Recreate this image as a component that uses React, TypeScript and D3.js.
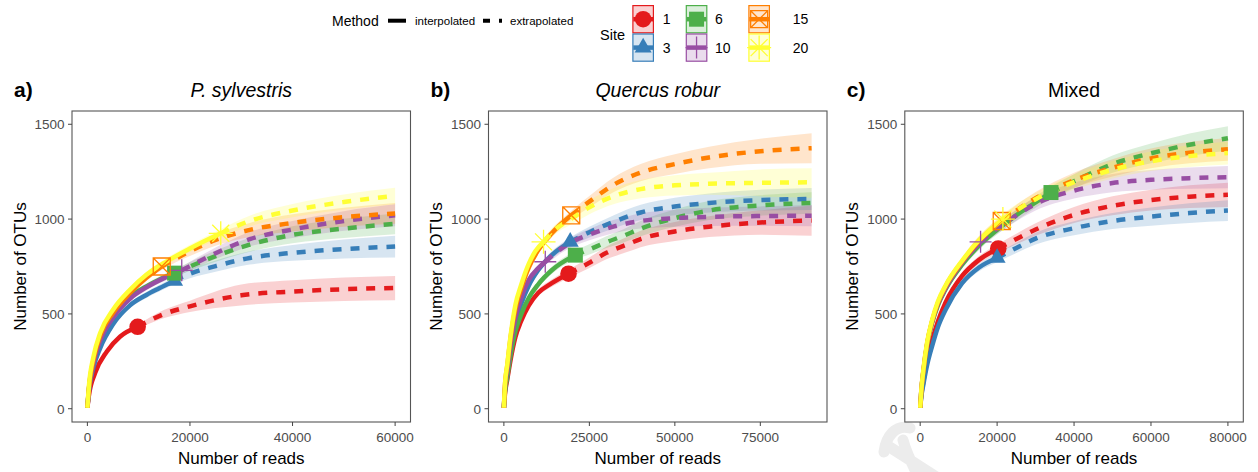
import { useEffect, useRef } from "react";
import * as d3 from "d3";

// sites (legend order) and their look
const siteLabels = ["1", "3", "6", "10", "15", "20"];
const siteColors = ["#E41A1C", "#377EB8", "#4DAF4A", "#984EA3", "#FF7F00", "#FFFF33"];
const siteShapes = ["circle", "triangle", "square", "plus", "squareCross", "asterisk"];

const panelLabels = ["a)", "b)", "c)"];
const panelTitles = ["P. sylvestris", "Quercus robur", "Mixed"];
const panelItalic = [true, true, false];
const panelMaxReads = [60000, 90000, 80000];
const panelXTicks = [
  [0, 20000, 40000, 60000],
  [0, 25000, 50000, 75000],
  [0, 20000, 40000, 60000, 80000],
];
const yTicks = [0, 500, 1000, 1500];

// observed number of reads for each site (1, 3, 6, 10, 15, 20)
const pineObserved = [9800, 17000, 17000, 18400, 14500, 26000];
const oakObserved = [18900, 19400, 20900, 12100, 19700, 11600];
const mixedObserved = [20300, 20000, 34000, 15700, 21200, 21500];

// rarefaction rows: [reads, OTUs, lower CI, upper CI]
const pine1 = [[0, 5, 5, 5], [300, 70, 68, 72], [1500, 188, 182, 194], [3800, 302, 294, 310], [6400, 381, 371, 391], [9800, 432, 420, 444], [15000, 500, 478, 522], [20000, 540, 510, 570], [30000, 598, 545, 655], [40000, 618, 560, 678], [50000, 630, 568, 692], [60000, 637, 572, 700]];
const pine3 = [[0, 5, 5, 5], [300, 95, 92, 98], [1200, 220, 213, 227], [2500, 320, 311, 329], [5000, 445, 433, 457], [8300, 545, 531, 559], [11500, 600, 584, 616], [14000, 635, 618, 652], [17000, 675, 656, 694], [20000, 712, 688, 736], [25000, 752, 722, 782], [31650, 795, 760, 830], [40000, 822, 780, 864], [50000, 842, 792, 892], [60000, 855, 797, 912]];
const pine6 = [[0, 5, 5, 5], [300, 105, 102, 108], [1200, 245, 238, 252], [2500, 365, 356, 374], [5000, 485, 473, 497], [8300, 590, 576, 604], [11500, 645, 629, 661], [14000, 680, 663, 697], [17000, 715, 696, 734], [20000, 750, 726, 774], [25000, 805, 775, 835], [31650, 865, 828, 902], [40000, 917, 872, 962], [50000, 950, 900, 1002], [60000, 975, 920, 1030]];
const pine10 = [[0, 5, 5, 5], [300, 100, 97, 103], [1200, 240, 233, 247], [2500, 360, 351, 369], [5000, 480, 468, 492], [8300, 580, 566, 594], [11500, 640, 624, 656], [15000, 690, 672, 708], [18400, 730, 710, 750], [20000, 752, 730, 775], [25000, 820, 790, 850], [31650, 894, 856, 932], [40000, 945, 900, 990], [50000, 990, 938, 1042], [60000, 1020, 962, 1078]];
const pine15 = [[0, 5, 5, 5], [300, 110, 107, 113], [1200, 260, 253, 267], [2500, 385, 376, 394], [5000, 505, 493, 517], [8300, 610, 596, 624], [11500, 690, 674, 706], [14500, 750, 732, 768], [20000, 830, 806, 854], [25000, 890, 860, 920], [31650, 943, 906, 980], [40000, 980, 935, 1025], [50000, 1010, 960, 1060], [60000, 1030, 975, 1085]];
const pine20 = [[0, 5, 5, 5], [300, 120, 117, 123], [1200, 276, 269, 283], [2500, 400, 391, 409], [5000, 522, 510, 534], [8300, 627, 613, 641], [11500, 706, 690, 722], [15400, 776, 758, 794], [20000, 845, 825, 865], [26000, 925, 902, 948], [31650, 990, 962, 1018], [40000, 1045, 1010, 1080], [50000, 1090, 1050, 1130], [60000, 1122, 1078, 1165]];

const oak1 = [[0, 5, 5, 5], [300, 75, 73, 77], [1000, 155, 150, 160], [2000, 262, 254, 270], [3400, 380, 369, 391], [5000, 460, 447, 473], [7300, 545, 530, 560], [10000, 610, 593, 627], [14000, 662, 643, 681], [18900, 712, 690, 734], [25000, 770, 742, 798], [30000, 822, 788, 856], [36000, 866, 826, 906], [40000, 895, 852, 938], [50000, 935, 885, 985], [60000, 960, 905, 1015], [75000, 982, 918, 1046], [90000, 992, 912, 1072]];
const oak3 = [[0, 5, 5, 5], [300, 95, 92, 98], [1000, 185, 180, 190], [2000, 320, 311, 329], [3400, 450, 438, 462], [5000, 550, 536, 564], [7300, 650, 634, 666], [10000, 730, 712, 748], [14000, 810, 790, 830], [19400, 880, 857, 903], [25000, 931, 903, 959], [32000, 985, 951, 1019], [40000, 1035, 995, 1075], [50000, 1066, 1020, 1112], [60000, 1085, 1035, 1135], [75000, 1100, 1045, 1155], [90000, 1106, 1048, 1164]];
const oak6 = [[0, 5, 5, 5], [300, 85, 82, 88], [1000, 168, 163, 173], [2000, 285, 277, 293], [3400, 410, 399, 421], [5000, 495, 482, 508], [7300, 585, 570, 600], [10000, 655, 638, 672], [14000, 730, 711, 749], [20900, 810, 787, 833], [25000, 840, 813, 867], [30000, 878, 847, 909], [35000, 912, 877, 947], [40000, 950, 910, 990], [50000, 1005, 960, 1050], [60000, 1045, 995, 1095], [75000, 1072, 1018, 1126], [90000, 1085, 1028, 1142]];
const oak10 = [[0, 5, 5, 5], [300, 105, 102, 108], [1000, 200, 195, 205], [2000, 340, 331, 349], [3400, 480, 468, 492], [5000, 580, 566, 594], [7300, 680, 664, 696], [10000, 740, 722, 758], [12100, 775, 756, 794], [15000, 820, 798, 842], [20000, 880, 854, 906], [25000, 918, 888, 948], [32000, 960, 925, 995], [40000, 990, 950, 1030], [50000, 1005, 960, 1050], [60000, 1012, 964, 1060], [75000, 1016, 965, 1067], [90000, 1018, 962, 1074]];
const oak15 = [[0, 5, 5, 5], [300, 120, 117, 123], [1000, 228, 222, 234], [2000, 380, 370, 390], [3400, 530, 517, 543], [5000, 630, 615, 645], [7300, 745, 728, 762], [10000, 835, 816, 854], [14000, 925, 904, 946], [19700, 1020, 996, 1044], [25000, 1092, 1062, 1122], [32000, 1180, 1142, 1218], [40000, 1245, 1200, 1290], [50000, 1290, 1238, 1342], [60000, 1325, 1268, 1382], [75000, 1358, 1292, 1424], [90000, 1374, 1295, 1453]];
const oak20 = [[0, 5, 5, 5], [300, 125, 122, 128], [1000, 235, 229, 241], [2000, 390, 380, 400], [3400, 550, 537, 563], [5000, 650, 635, 665], [7300, 765, 748, 782], [9200, 830, 812, 848], [11600, 880, 860, 900], [15000, 945, 920, 970], [20000, 1005, 975, 1035], [25000, 1062, 1026, 1098], [32000, 1120, 1078, 1162], [40000, 1158, 1110, 1206], [50000, 1178, 1125, 1231], [60000, 1186, 1128, 1244], [75000, 1191, 1120, 1262], [90000, 1194, 1112, 1268]];

const mixed1 = [[0, 5, 5, 5], [300, 72, 70, 74], [800, 140, 136, 144], [1800, 255, 247, 263], [3100, 360, 349, 371], [4600, 460, 447, 473], [6600, 560, 544, 576], [10900, 700, 681, 719], [15300, 785, 764, 806], [20300, 845, 821, 869], [25000, 895, 867, 923], [30000, 945, 912, 978], [40000, 1022, 980, 1064], [50000, 1070, 1020, 1120], [60000, 1100, 1045, 1155], [70000, 1118, 1058, 1178], [80000, 1128, 1064, 1192]];
const mixed3 = [[0, 5, 5, 5], [300, 65, 63, 67], [800, 125, 121, 129], [1800, 230, 223, 237], [3100, 330, 320, 340], [4600, 430, 417, 443], [6600, 522, 507, 537], [10900, 662, 644, 680], [15300, 745, 725, 765], [20000, 795, 772, 818], [25000, 848, 821, 875], [30000, 897, 866, 928], [40000, 952, 915, 989], [50000, 990, 948, 1032], [60000, 1013, 965, 1061], [70000, 1032, 980, 1084], [80000, 1045, 990, 1100]];
const mixed6 = [[0, 5, 5, 5], [300, 94, 91, 97], [800, 188, 183, 193], [1800, 335, 326, 344], [3100, 452, 439, 465], [4600, 545, 530, 560], [6600, 630, 612, 648], [10900, 760, 739, 781], [15300, 860, 837, 883], [21000, 960, 934, 986], [26400, 1040, 1011, 1069], [34000, 1140, 1108, 1172], [40000, 1200, 1163, 1237], [50000, 1290, 1245, 1335], [60000, 1347, 1295, 1399], [70000, 1392, 1333, 1451], [80000, 1426, 1362, 1490]];
const mixed10 = [[0, 5, 5, 5], [300, 96, 93, 99], [800, 192, 187, 197], [1800, 340, 331, 349], [3100, 458, 445, 471], [4600, 552, 537, 567], [6600, 635, 617, 653], [10900, 770, 749, 791], [15700, 880, 856, 904], [20000, 950, 923, 977], [25000, 1020, 989, 1051], [30000, 1080, 1045, 1115], [40000, 1150, 1108, 1192], [50000, 1190, 1142, 1238], [60000, 1207, 1155, 1259], [70000, 1216, 1160, 1272], [80000, 1221, 1162, 1280]];
const mixed15 = [[0, 5, 5, 5], [300, 98, 95, 101], [800, 196, 191, 201], [1800, 344, 335, 353], [3100, 462, 449, 475], [4600, 558, 543, 573], [6600, 645, 627, 663], [10900, 775, 754, 796], [15300, 885, 861, 909], [19600, 965, 939, 991], [21200, 990, 963, 1017], [30000, 1110, 1077, 1143], [40000, 1205, 1165, 1245], [50000, 1270, 1224, 1316], [60000, 1320, 1268, 1372], [70000, 1350, 1294, 1406], [80000, 1368, 1308, 1428]];
const mixed20 = [[0, 5, 5, 5], [300, 100, 97, 103], [800, 200, 195, 205], [1800, 350, 341, 359], [3100, 468, 455, 481], [4600, 565, 550, 580], [6600, 650, 632, 668], [10900, 780, 759, 801], [15300, 888, 864, 912], [19600, 968, 942, 994], [21500, 1000, 973, 1027], [30000, 1105, 1072, 1138], [40000, 1195, 1155, 1235], [50000, 1260, 1214, 1306], [60000, 1305, 1253, 1357], [70000, 1332, 1275, 1389], [80000, 1348, 1288, 1408]];

const panelCurves = [
  [pine1, pine3, pine6, pine10, pine15, pine20],
  [oak1, oak3, oak6, oak10, oak15, oak20],
  [mixed1, mixed3, mixed6, mixed10, mixed15, mixed20],
];
const panelObserved = [pineObserved, oakObserved, mixedObserved];

const FONT = "'Liberation Sans', Arial, Helvetica, sans-serif";

// glyph for a ggplot-like point shape, centred on 0,0
function shapePath(shape: string): string {
  switch (shape) {
    case "circle":
      return d3.symbol(d3.symbolCircle, Math.PI * 8.3 * 8.3)() as string;
    case "triangle": {
      const s = 17;
      const h = (s * Math.sqrt(3)) / 2;
      return `M0,${(-h * 2) / 3}L${s / 2},${h / 3}L${-s / 2},${h / 3}Z`;
    }
    case "square":
      return "M-7.5,-7.5H7.5V7.5H-7.5Z";
    case "plus":
      return "M-11,0H11M0,-11V11";
    case "squareCross":
      return "M-8.5,-8.5H8.5V8.5H-8.5ZM-8.5,-8.5L8.5,8.5M8.5,-8.5L-8.5,8.5";
    default:
      return "M-12,0H12M0,-12V12M-8.5,-8.5L8.5,8.5M8.5,-8.5L-8.5,8.5";
  }
}
const isFilled = (shape: string) => shape === "circle" || shape === "triangle" || shape === "square";

function drawPoint(g: any, shape: string, color: string, cx: number, cy: number) {
  const p = g.append("path").attr("d", shapePath(shape)).attr("transform", `translate(${cx},${cy})`);
  if (isFilled(shape)) p.attr("fill", color).attr("stroke", "none");
  else p.attr("fill", "none").attr("stroke", color).attr("stroke-width", 1.3);
}

function App() {
  const chartRef = useRef<SVGSVGElement | null>(null);

  useEffect(() => {
    const width = 1258;
    const height = 472;
    const plotTop = 111;
    const plotBottom = 422;
    const panelWidth = 338.5;
    const panelLefts = [72, 488.5, 904.8];

    const svg = d3.select(chartRef.current);
    svg.selectAll("*").remove();
    svg.attr("width", width).attr("height", height);

    svg.append("rect").attr("width", width).attr("height", height).attr("fill", "#ffffff");

    // faint watermark near the bottom of panel c
    svg
      .append("path")
      .attr("d", "M884,452 C886,436 896,424 910,428 M888,446 L938,478 M903,440 C906,452 912,464 918,476")
      .attr("fill", "none")
      .attr("stroke", "#ececec")
      .attr("stroke-width", 11)
      .attr("stroke-linecap", "round");

    const yScale = d3.scaleLinear().domain([-70, 1570]).range([plotBottom, plotTop]);

    panelCurves.forEach((curves, p) => {
      const left = panelLefts[p];
      const maxReads = panelMaxReads[p];
      const xScale = d3
        .scaleLinear()
        .domain([-0.05 * maxReads, 1.05 * maxReads])
        .range([left, left + panelWidth]);

      const g = svg.append("g");

      const area = d3
        .area<number[]>()
        .x((d) => xScale(d[0]))
        .y0((d) => yScale(d[2]))
        .y1((d) => yScale(d[3]))
        .curve(d3.curveMonotoneX);
      const line = d3
        .line<number[]>()
        .x((d) => xScale(d[0]))
        .y((d) => yScale(d[1]))
        .curve(d3.curveMonotoneX);

      // confidence ribbons
      curves.forEach((rows, i) => {
        g.append("path")
          .attr("d", area(rows as number[][]))
          .attr("fill", siteColors[i])
          .attr("fill-opacity", 0.2);
      });

      // interpolated (solid) and extrapolated (dashed) curves
      curves.forEach((rows, i) => {
        const obs = panelObserved[p][i];
        const inter = rows.filter((r) => r[0] <= obs);
        const extra = rows.filter((r) => r[0] >= obs);
        g.append("path")
          .attr("d", line(inter as number[][]))
          .attr("fill", "none")
          .attr("stroke", siteColors[i])
          .attr("stroke-width", 4.5);
        g.append("path")
          .attr("d", line(extra as number[][]))
          .attr("fill", "none")
          .attr("stroke", siteColors[i])
          .attr("stroke-width", 4.5)
          .attr("stroke-dasharray", "9,9");
      });

      // observed points
      curves.forEach((rows, i) => {
        const obs = panelObserved[p][i];
        const row = rows.find((r) => r[0] === obs) as number[];
        drawPoint(g, siteShapes[i], siteColors[i], xScale(row[0]), yScale(row[1]));
      });

      // panel border
      g.append("rect")
        .attr("x", left)
        .attr("y", plotTop)
        .attr("width", panelWidth)
        .attr("height", plotBottom - plotTop)
        .attr("fill", "none")
        .attr("stroke", "#555555")
        .attr("stroke-width", 1.1);

      // x ticks
      panelXTicks[p].forEach((t) => {
        g.append("line")
          .attr("x1", xScale(t))
          .attr("x2", xScale(t))
          .attr("y1", plotBottom)
          .attr("y2", plotBottom + 4)
          .attr("stroke", "#444444")
          .attr("stroke-width", 1);
        g.append("text")
          .attr("x", xScale(t))
          .attr("y", 441.5)
          .attr("text-anchor", "middle")
          .attr("font-family", FONT)
          .attr("font-size", 13.5)
          .attr("fill", "#4d4d4d")
          .text(String(t));
      });

      // y ticks
      yTicks.forEach((t) => {
        g.append("line")
          .attr("x1", left - 4)
          .attr("x2", left)
          .attr("y1", yScale(t))
          .attr("y2", yScale(t))
          .attr("stroke", "#444444")
          .attr("stroke-width", 1);
        g.append("text")
          .attr("x", left - 7.5)
          .attr("y", yScale(t))
          .attr("dy", "0.36em")
          .attr("text-anchor", "end")
          .attr("font-family", FONT)
          .attr("font-size", 13.5)
          .attr("fill", "#4d4d4d")
          .text(String(t));
      });

      // axis titles
      g.append("text")
        .attr("x", left + panelWidth / 2)
        .attr("y", 463.5)
        .attr("text-anchor", "middle")
        .attr("font-family", FONT)
        .attr("font-size", 17)
        .attr("fill", "#000")
        .text("Number of reads");
      g.append("text")
        .attr("transform", `translate(${left - 46.5},${(plotTop + plotBottom) / 2}) rotate(-90)`)
        .attr("text-anchor", "middle")
        .attr("font-family", FONT)
        .attr("font-size", 17)
        .attr("fill", "#000")
        .text("Number of OTUs");

      // panel title and tag
      g.append("text")
        .attr("x", left + panelWidth / 2)
        .attr("y", 97)
        .attr("text-anchor", "middle")
        .attr("font-family", FONT)
        .attr("font-size", 19.5)
        .attr("font-style", panelItalic[p] ? "italic" : "normal")
        .attr("fill", "#000")
        .text(panelTitles[p]);
      g.append("text")
        .attr("x", left - 58)
        .attr("y", 97)
        .attr("font-family", FONT)
        .attr("font-size", 21)
        .attr("font-weight", "bold")
        .attr("fill", "#000")
        .text(panelLabels[p]);
    });

    // Method legend
    const leg = svg.append("g").attr("font-family", FONT);
    leg.append("text").attr("x", 332).attr("y", 25.5).attr("font-size", 14).text("Method");
    leg.append("line").attr("x1", 388).attr("x2", 406).attr("y1", 20.7).attr("y2", 20.7)
      .attr("stroke", "#000").attr("stroke-width", 4);
    leg.append("text").attr("x", 415).attr("y", 24.5).attr("font-size", 11.5).text("interpolated");
    leg.append("line").attr("x1", 483).attr("x2", 502).attr("y1", 20.7).attr("y2", 20.7)
      .attr("stroke", "#000").attr("stroke-width", 4).attr("stroke-dasharray", "7,9");
    leg.append("text").attr("x", 510).attr("y", 24.5).attr("font-size", 11.5).text("extrapolated");

    // Site legend
    leg.append("text").attr("x", 600).attr("y", 40).attr("font-size", 14.5).text("Site");
    const keyCols = [632.3, 685.7, 748.3];
    const labelCols = [662.7, 715, 792.7];
    const keyRows = [5, 33.4];
    const keyW = 21.7;
    const keyH = 28.4;
    siteLabels.forEach((label, i) => {
      const col = Math.floor(i / 2);
      const row = i % 2;
      const kx = keyCols[col];
      const ky = keyRows[row];
      const cx = kx + keyW / 2;
      const cy = ky + keyH / 2;
      leg.append("rect")
        .attr("x", kx + 0.6)
        .attr("y", ky + 0.6)
        .attr("width", keyW - 1.2)
        .attr("height", keyH - 1.2)
        .attr("fill", siteColors[i])
        .attr("fill-opacity", 0.2)
        .attr("stroke", siteColors[i])
        .attr("stroke-width", 1.2);
      leg.append("line")
        .attr("x1", kx + 1)
        .attr("x2", kx + keyW - 1)
        .attr("y1", cy)
        .attr("y2", cy)
        .attr("stroke", siteColors[i])
        .attr("stroke-width", 4.5);
      drawPoint(leg, siteShapes[i], siteColors[i], cx, cy);
      leg.append("text")
        .attr("x", labelCols[col])
        .attr("y", cy + 5)
        .attr("font-size", 14)
        .text(label);
    });
  }, []);

  return (
    <svg
      ref={chartRef}
      style={{ position: "absolute", left: 0, top: 0, display: "block" }}
    ></svg>
  );
}

export default App;
